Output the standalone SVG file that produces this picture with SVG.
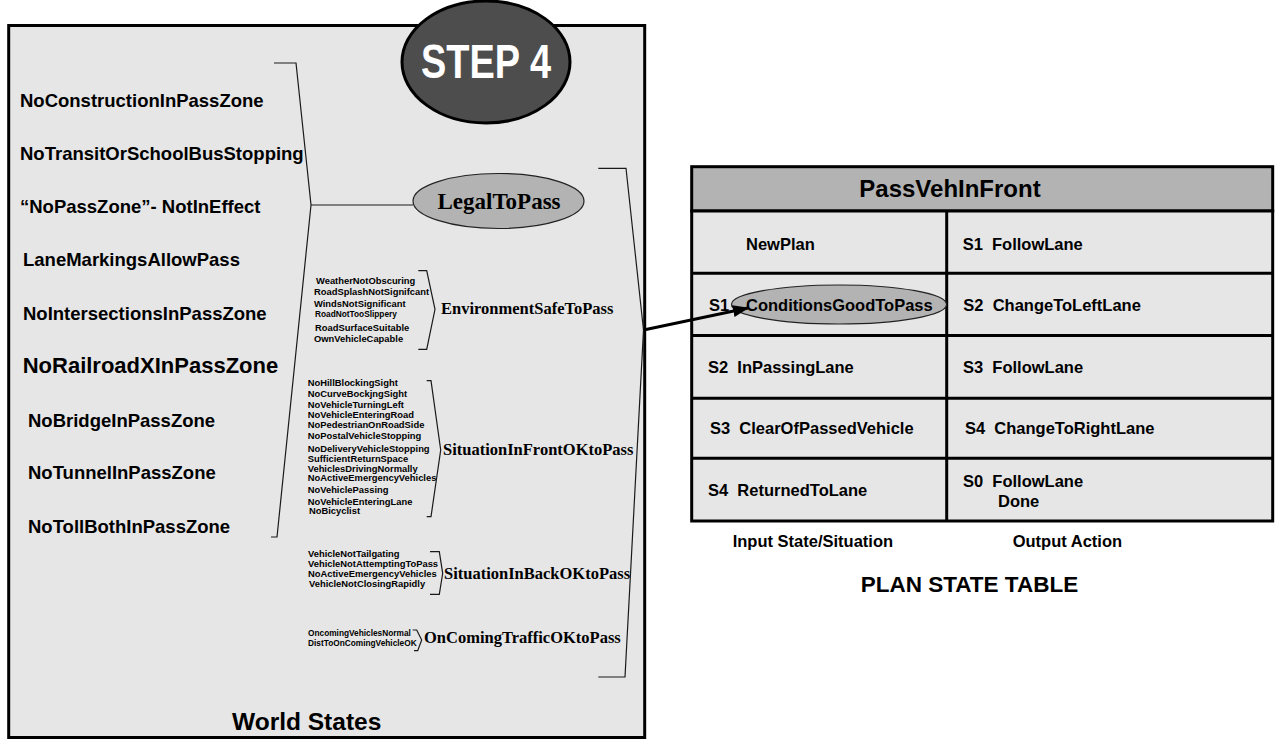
<svg xmlns="http://www.w3.org/2000/svg" width="1275" height="741" viewBox="0 0 1275 741">
  <style>
    .sans { font-family: "Liberation Sans", Arial, sans-serif; font-weight: bold; fill: #000; }
    .serif { font-family: "Liberation Serif", "Times New Roman", serif; font-weight: bold; fill: #000; }
    .item { font-size: 18.5px; }
    .small { font-size: 9.4px; }
    .tiny { font-size: 8.3px; }
    .group { font-size: 16.5px; }
    .cell { font-size: 16.5px; }
    .brace { fill: none; stroke: #1a1a1a; stroke-width: 1.2; stroke-linejoin: miter; }
    .panel { fill: #e6e6e6; stroke: #000; stroke-width: 3; }
    .tbl { fill: #e6e6e6; stroke: #000; stroke-width: 3; }
    .grid { stroke: #000; stroke-width: 3; fill: none; }
    .oval { fill: #b3b3b3; stroke: #222; stroke-width: 1.2; }
  </style>
  <defs>
    <marker id="arrowhead" markerUnits="userSpaceOnUse" markerWidth="16" markerHeight="12" refX="15" refY="6" orient="auto">
      <path d="M0,0 L16,6 L0,12 Z" fill="#000"/>
    </marker>
  </defs>

  <rect width="1275" height="741" fill="#fff"/>

  <!-- World states panel -->
  <g id="world-states">
    <rect class="panel" x="8.7" y="25.5" width="636" height="712"/>
    <text class="sans" x="232" y="730" font-size="24.5">World States</text>
  </g>

  <!-- Step badge -->
  <g id="step4">
    <ellipse cx="486" cy="62" rx="84" ry="61" fill="#4d4d4d" stroke="#000" stroke-width="3"/>
    <text class="sans" x="421" y="78" font-size="49" style="fill:#fff" textLength="130" lengthAdjust="spacingAndGlyphs">STEP 4</text>
  </g>

  <!-- Legal conditions -->
  <g id="legal-conditions">
    <text class="sans item" x="20" y="107">NoConstructionInPassZone</text>
    <text class="sans item" x="20" y="160">NoTransitOrSchoolBusStopping</text>
    <text class="sans item" x="20" y="213">“NoPassZone”- NotInEffect</text>
    <text class="sans item" x="23" y="266">LaneMarkingsAllowPass</text>
    <text class="sans item" x="23" y="320">NoIntersectionsInPassZone</text>
    <text class="sans" x="22.7" y="373" font-size="22">NoRailroadXInPassZone</text>
    <text class="sans item" x="28" y="427">NoBridgeInPassZone</text>
    <text class="sans item" x="28" y="479">NoTunnelInPassZone</text>
    <text class="sans item" x="28" y="533">NoTollBothInPassZone</text>
  </g>

  <g id="legal-to-pass">
    <ellipse class="oval" cx="498.5" cy="201" rx="85.5" ry="27.5"/>
    <text class="serif" x="499" y="209" font-size="23" text-anchor="middle">LegalToPass</text>
  </g>

  <!-- Environment -->
  <g id="environment">
    <text class="sans small" x="316" y="284">WeatherNotObscuring</text>
    <text class="sans small" x="314" y="295">RoadSplashNotSignifcant</text>
    <text class="sans small" x="314" y="306.7">WindsNotSignificant</text>
    <text class="sans tiny" x="315" y="317">RoadNotTooSlippery</text>
    <text class="sans small" x="315" y="331">RoadSurfaceSuitable</text>
    <text class="sans small" x="314" y="342">OwnVehicleCapable</text>
    <text class="serif group" x="441" y="314">EnvironmentSafeToPass</text>
  </g>

  <!-- Situation in front -->
  <g id="situation-front">
    <text class="sans small" x="307.7" y="385.7">NoHillBlockingSight</text>
    <text class="sans small" x="307.7" y="396.7">NoCurveBockjngSight</text>
    <text class="sans small" x="307.7" y="407.7">NoVehicleTurningLeft</text>
    <text class="sans small" x="307.7" y="417.7">NoVehicleEnteringRoad</text>
    <text class="sans small" x="307.7" y="428.3">NoPedestrianOnRoadSide</text>
    <text class="sans small" x="307.7" y="439">NoPostalVehicleStopping</text>
    <text class="sans small" x="307.7" y="451.7">NoDeliveryVehicleStopping</text>
    <text class="sans small" x="307.7" y="461.7">SufficientReturnSpace</text>
    <text class="sans small" x="307.7" y="471.7">VehiclesDrivingNormally</text>
    <text class="sans small" x="307.7" y="481">NoActiveEmergencyVehicles</text>
    <text class="sans small" x="307.7" y="492.7">NoVehiclePassing</text>
    <text class="sans small" x="307.7" y="505">NoVehicleEnteringLane</text>
    <text class="sans small" x="309" y="514">NoBicyclist</text>
    <text class="serif group" x="443" y="455">SituationInFrontOKtoPass</text>
  </g>

  <!-- Situation in back -->
  <g id="situation-back">
    <text class="sans small" x="308" y="556.7">VehicleNotTailgating</text>
    <text class="sans small" x="308" y="566.7">VehicleNotAttemptingToPass</text>
    <text class="sans small" x="308" y="576.7">NoActiveEmergencyVehicles</text>
    <text class="sans small" x="309" y="586.7">VehicleNotClosingRapidly</text>
    <text class="serif group" x="444" y="579.3">SituationInBackOKtoPass</text>
  </g>

  <!-- Oncoming traffic -->
  <g id="oncoming">
    <text class="sans tiny" x="308" y="636">OncomingVehiclesNormal</text>
    <text class="sans tiny" x="308" y="646">DistToOnComingVehicleOK</text>
    <text class="serif group" x="424" y="643.3">OnComingTrafficOKtoPass</text>
  </g>

  <!-- Plan state table -->
  <g id="plan-table">
    <rect x="691.7" y="166.7" width="581" height="44.3" fill="#b3b3b3" stroke="#000" stroke-width="3"/>
    <rect class="tbl" x="691.7" y="211" width="581" height="310"/>
    <line class="grid" x1="946.7" y1="211" x2="946.7" y2="521"/>
    <line class="grid" x1="691.7" y1="273.3" x2="1272.7" y2="273.3"/>
    <line class="grid" x1="691.7" y1="335.5" x2="1272.7" y2="335.5"/>
    <line class="grid" x1="691.7" y1="398.3" x2="1272.7" y2="398.3"/>
    <line class="grid" x1="691.7" y1="458.3" x2="1272.7" y2="458.3"/>
    <text class="sans" x="950" y="197.3" font-size="24" text-anchor="middle">PassVehInFront</text>

    <text class="sans cell" x="746" y="250">NewPlan</text>
    <text class="sans cell" x="962.7" y="250" xml:space="preserve">S1  FollowLane</text>

    <ellipse class="oval" cx="839" cy="304.5" rx="107.5" ry="19.5"/>
    <text class="sans cell" x="709" y="310.7">S1</text>
    <text class="sans cell" x="746" y="310.7">ConditionsGoodToPass</text>
    <text class="sans cell" x="963.3" y="310.7" xml:space="preserve">S2  ChangeToLeftLane</text>

    <text class="sans cell" x="708" y="372.7" xml:space="preserve">S2  InPassingLane</text>
    <text class="sans cell" x="963" y="372.7" xml:space="preserve">S3  FollowLane</text>

    <text class="sans cell" x="710" y="434" xml:space="preserve">S3  ClearOfPassedVehicle</text>
    <text class="sans cell" x="965" y="434" xml:space="preserve">S4  ChangeToRightLane</text>

    <text class="sans cell" x="708" y="495.7" xml:space="preserve">S4  ReturnedToLane</text>
    <text class="sans cell" x="963" y="486.7" xml:space="preserve">S0  FollowLane</text>
    <text class="sans cell" x="998" y="506.7">Done</text>

    <text class="sans cell" x="732.7" y="547.3">Input State/Situation</text>
    <text class="sans cell" x="1012.7" y="547.3">Output Action</text>
    <text class="sans" x="860.7" y="591.7" font-size="22.5">PLAN STATE TABLE</text>
  </g>

  <!-- Brackets and the link into the table -->
  <g id="connectors">
    <polyline class="brace" points="274,63 296,63 311,205 277,537 271,537"/>
    <line class="brace" x1="311" y1="205" x2="413" y2="205"/>
    <polyline class="brace" points="418.3,270.7 426.7,270.7 435,309.3 426.7,349.3 418.3,349.3"/>
    <polyline class="brace" points="426.7,380.7 431,380.7 440.7,450 431,516.7 426.7,516.7"/>
    <polyline class="brace" points="430,551.7 439.3,551.7 442.7,573.3 439.3,594.3 430,594.3"/>
    <polyline class="brace" points="412.7,630 416.7,630 421.7,640 417.7,650.7 414,650.7"/>
    <polyline class="brace" points="598.3,168.3 626,168.3 643.5,330 625,677 598.3,677"/>
    <line x1="643.5" y1="330" x2="748" y2="308" stroke="#000" stroke-width="3" marker-end="url(#arrowhead)"/>
  </g>
</svg>
